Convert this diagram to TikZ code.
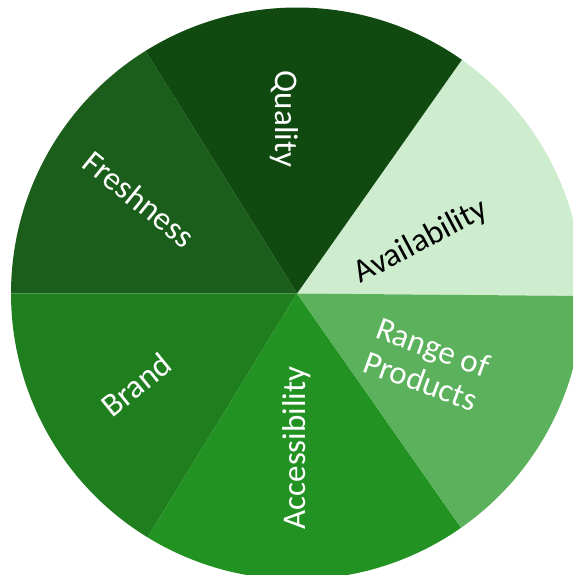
\documentclass[tikz,border=0pt]{standalone}
\usepackage{fontspec}
\setmainfont{Carlito}
\definecolor{cQual}{RGB}{17,74,17}
\definecolor{cFresh}{RGB}{27,94,27}
\definecolor{cBrand}{RGB}{31,127,31}
\definecolor{cAcc}{RGB}{34,147,34}
\definecolor{cRange}{RGB}{92,178,92}
\definecolor{cAvail}{RGB}{206,237,206}
\begin{document}
\begin{tikzpicture}[x=1pt,y=1pt,
  lbl/.style={font=\fontsize{33}{36}\selectfont, text=white, align=center, inner sep=0pt}]
\useasboundingbox (0,0) rectangle (573,575);
\clip (0,0) rectangle (573,575);
\coordinate (C) at (297,281.5);
\def\R{286}
\fill[cAvail] (C) -- ([shift={(-0.5:\R)}]C) arc[start angle=-0.5, end angle=54.8, radius=\R] -- cycle;
\fill[cQual] (C) -- ([shift={(54.8:\R)}]C) arc[start angle=54.8, end angle=122, radius=\R] -- cycle;
\fill[cFresh] (C) -- ([shift={(122:\R)}]C) arc[start angle=122, end angle=180, radius=\R] -- cycle;
\fill[cBrand] (C) -- ([shift={(180:\R)}]C) arc[start angle=180, end angle=238.5, radius=\R] -- cycle;
\fill[cAcc] (C) -- ([shift={(238.5:\R)}]C) arc[start angle=238.5, end angle=305, radius=\R] -- cycle;
\fill[cRange] (C) -- ([shift={(305:\R)}]C) arc[start angle=305, end angle=359.5, radius=\R] -- cycle;
\node[lbl, rotate=-90] (quality) at (284,456) {Quality};
\node[lbl, rotate=-39] (fresh) at (139,376) {Freshness};
\node[lbl, rotate=39] (brand) at (136,190) {Brand};
\node[lbl, rotate=90] (acc) at (297,127) {Accessibility};
\node[lbl, rotate=-20, text=white] (range) at (427,211) {Range of\\Products};
\node[lbl, rotate=28, text=black] (avail) at (421,333) {Availability};
\end{tikzpicture}
\end{document}
